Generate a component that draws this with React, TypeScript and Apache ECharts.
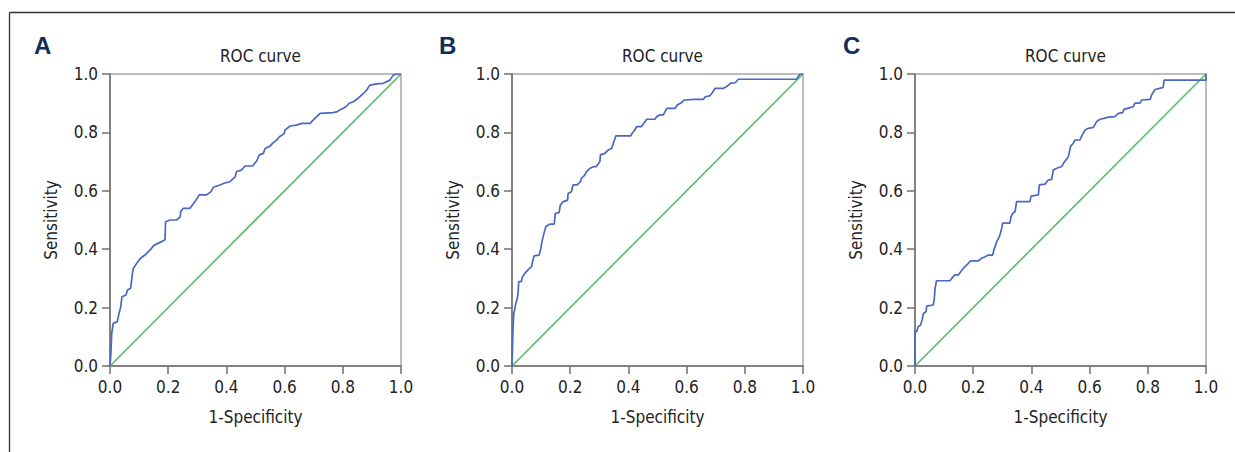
import React, { useEffect, useRef } from "react";
import * as echarts from "echarts";

const panelLetters = ["A", "B", "C"];
const chartTitle = "ROC curve";
const xAxisName = "1-Specificity";
const yAxisName = "Sensitivity";

// ROC curve points [1-specificity, sensitivity]
const rocA: number[][] = [
  [0, 0], [0.003, 0.043], [0.006, 0.112], [0.011, 0.146], [0.025, 0.152], [0.031, 0.18],
  [0.037, 0.203], [0.041, 0.237], [0.055, 0.243], [0.06, 0.26], [0.071, 0.266], [0.077, 0.317],
  [0.08, 0.334], [0.092, 0.352], [0.105, 0.369], [0.12, 0.38], [0.137, 0.397], [0.152, 0.414],
  [0.178, 0.426], [0.189, 0.432], [0.191, 0.494], [0.206, 0.5], [0.229, 0.5], [0.241, 0.511],
  [0.243, 0.529], [0.252, 0.54], [0.275, 0.54], [0.292, 0.563], [0.307, 0.586], [0.332, 0.586],
  [0.347, 0.597], [0.355, 0.612], [0.378, 0.62], [0.392, 0.626], [0.412, 0.631], [0.43, 0.648],
  [0.435, 0.666], [0.452, 0.671], [0.464, 0.685], [0.49, 0.685], [0.504, 0.702], [0.513, 0.723],
  [0.527, 0.728], [0.533, 0.745], [0.55, 0.753], [0.561, 0.765], [0.573, 0.774], [0.582, 0.785],
  [0.598, 0.795], [0.601, 0.808], [0.619, 0.822], [0.641, 0.825], [0.659, 0.831], [0.687, 0.831],
  [0.704, 0.848], [0.722, 0.865], [0.767, 0.868], [0.781, 0.871], [0.79, 0.877], [0.811, 0.888],
  [0.822, 0.9], [0.836, 0.905], [0.853, 0.917], [0.871, 0.934], [0.882, 0.945], [0.893, 0.962],
  [0.916, 0.966], [0.939, 0.968], [0.962, 0.979], [0.974, 0.997], [0.991, 1.0], [1, 1],
];

const rocB: number[][] = [
  [0, 0], [0.002, 0.078], [0.003, 0.118], [0.006, 0.18], [0.009, 0.192], [0.013, 0.215],
  [0.017, 0.226], [0.021, 0.249], [0.023, 0.289], [0.032, 0.289], [0.036, 0.306], [0.044, 0.317],
  [0.055, 0.329], [0.067, 0.34], [0.072, 0.363], [0.076, 0.377], [0.093, 0.38], [0.098, 0.397],
  [0.103, 0.426], [0.107, 0.443], [0.116, 0.477], [0.13, 0.486], [0.145, 0.486], [0.149, 0.523],
  [0.162, 0.525], [0.166, 0.551], [0.176, 0.563], [0.191, 0.568], [0.193, 0.591], [0.204, 0.597],
  [0.21, 0.62], [0.224, 0.62], [0.235, 0.631], [0.239, 0.643], [0.25, 0.654], [0.256, 0.666],
  [0.268, 0.677], [0.282, 0.683], [0.29, 0.683], [0.302, 0.7], [0.304, 0.723], [0.319, 0.728],
  [0.331, 0.74], [0.342, 0.745], [0.357, 0.788], [0.408, 0.788], [0.413, 0.797], [0.422, 0.808],
  [0.428, 0.82], [0.445, 0.82], [0.453, 0.831], [0.463, 0.845], [0.491, 0.845], [0.497, 0.854],
  [0.509, 0.86], [0.52, 0.86], [0.526, 0.871], [0.532, 0.882], [0.56, 0.882], [0.568, 0.894],
  [0.583, 0.902], [0.591, 0.911], [0.629, 0.913], [0.658, 0.913], [0.664, 0.922], [0.679, 0.925],
  [0.687, 0.934], [0.698, 0.951], [0.727, 0.951], [0.738, 0.957], [0.75, 0.968], [0.767, 0.97],
  [0.778, 0.982], [0.979, 0.982], [0.983, 0.991], [0.991, 1.0], [1, 1],
];

const rocC: number[][] = [
  [0, 0], [0, 0.118], [0.006, 0.118], [0.011, 0.135], [0.019, 0.14], [0.025, 0.16],
  [0.029, 0.18], [0.038, 0.186], [0.04, 0.205], [0.063, 0.209], [0.066, 0.228], [0.069, 0.266],
  [0.074, 0.292], [0.12, 0.292], [0.126, 0.3], [0.137, 0.312], [0.149, 0.312], [0.157, 0.323],
  [0.166, 0.334], [0.178, 0.346], [0.191, 0.36], [0.218, 0.36], [0.229, 0.369], [0.241, 0.374],
  [0.252, 0.38], [0.267, 0.38], [0.271, 0.397], [0.281, 0.426], [0.29, 0.443], [0.298, 0.471],
  [0.301, 0.489], [0.326, 0.489], [0.33, 0.511], [0.336, 0.523], [0.344, 0.529], [0.349, 0.563],
  [0.395, 0.563], [0.399, 0.582], [0.424, 0.586], [0.427, 0.62], [0.447, 0.623], [0.458, 0.637],
  [0.47, 0.639], [0.475, 0.671], [0.487, 0.677], [0.504, 0.683], [0.51, 0.694], [0.518, 0.705],
  [0.527, 0.717], [0.535, 0.753], [0.544, 0.763], [0.55, 0.774], [0.567, 0.774], [0.573, 0.788],
  [0.584, 0.808], [0.596, 0.814], [0.613, 0.817], [0.624, 0.837], [0.636, 0.845], [0.649, 0.848],
  [0.664, 0.852], [0.687, 0.854], [0.699, 0.865], [0.714, 0.868], [0.718, 0.879], [0.739, 0.885],
  [0.75, 0.888], [0.756, 0.9], [0.773, 0.9], [0.779, 0.911], [0.808, 0.913], [0.813, 0.928],
  [0.825, 0.947], [0.853, 0.954], [0.856, 0.979], [1.0, 0.979], [1.0, 1.0],
];

const referenceLine: number[][] = [[0, 0], [1, 1]];
const rocData = [rocA, rocB, rocC];

const FONT = "'Liberation Sans Narrow', 'DejaVu Sans Condensed', 'Liberation Sans', sans-serif";

export default function App() {
  const ref = useRef<HTMLDivElement>(null);
  useEffect(() => {
    if (!ref.current) return;
    const chart = echarts.init(ref.current, undefined, { renderer: "svg" });
    const gridLefts = [110, 512, 915];
    const gridW = 291;
    const gridTop = 74;
    const gridH = 292;
    const letterX = [34, 439, 843];

    const grids = gridLefts.map((l) => ({
      left: l,
      top: gridTop,
      width: gridW,
      height: gridH,
      show: true,
      borderColor: "#a8a8a8",
      borderWidth: 1.5,
      backgroundColor: "transparent",
    }));

    const axisLabelStyle = { fontFamily: FONT, fontSize: 17, color: "#222" };

    const xAxes = gridLefts.map((_, i) => ({
      type: "value",
      gridIndex: i,
      min: 0,
      max: 1,
      interval: 0.2,
      name: xAxisName,
      nameLocation: "middle",
      nameGap: 42,
      nameTextStyle: { fontFamily: FONT, fontSize: 17, color: "#222" },
      axisLine: { show: true, lineStyle: { color: "#6f6f6f", width: 1.5 } },
      axisTick: { show: true, length: 8, lineStyle: { color: "#6f6f6f", width: 1.5 } },
      axisLabel: { ...axisLabelStyle, margin: 12, formatter: (v: number) => v.toFixed(1) },
      splitLine: { show: false },
    }));

    const yAxes = gridLefts.map((_, i) => ({
      type: "value",
      gridIndex: i,
      min: 0,
      max: 1,
      interval: 0.2,
      name: yAxisName,
      nameLocation: "middle",
      nameGap: 51,
      nameRotate: 90,
      nameTextStyle: { fontFamily: FONT, fontSize: 17, color: "#222" },
      axisLine: { show: true, lineStyle: { color: "#6f6f6f", width: 1.5 } },
      axisTick: { show: true, length: 8, lineStyle: { color: "#6f6f6f", width: 1.5 } },
      axisLabel: { ...axisLabelStyle, margin: 12, formatter: (v: number) => v.toFixed(1) },
      splitLine: { show: false },
    }));

    const series: any[] = [];
    rocData.forEach((d, i) => {
      series.push({
        type: "line",
        xAxisIndex: i,
        yAxisIndex: i,
        data: referenceLine,
        symbol: "none",
        lineStyle: { color: "#58bb6a", width: 1.6 },
        z: 2,
      });
      series.push({
        type: "line",
        xAxisIndex: i,
        yAxisIndex: i,
        data: d,
        symbol: "none",
        lineStyle: { color: "#4a68c0", width: 1.7 },
        z: 3,
      });
    });

    const titles = gridLefts.map((l) => ({
      text: chartTitle,
      left: l + gridW / 2,
      top: 42,
      textAlign: "center",
      textStyle: { fontFamily: FONT, fontSize: 17, fontWeight: "normal", color: "#222" },
    }));

    const graphic: any[] = [
      {
        type: "line",
        shape: { x1: 9.5, y1: 12.5, x2: 1235, y2: 12.5 },
        style: { stroke: "#333", lineWidth: 1.3 },
      },
      {
        type: "line",
        shape: { x1: 9.5, y1: 12.5, x2: 9.5, y2: 452 },
        style: { stroke: "#333", lineWidth: 1.3 },
      },
      ...panelLetters.map((t, i) => ({
        type: "text",
        x: letterX[i],
        y: 45,
        style: {
          text: t,
          fontFamily: "'Liberation Sans', 'DejaVu Sans', sans-serif",
          fontWeight: "bold",
          fontSize: 24,
          fill: "#102d5c",
          textVerticalAlign: "middle",
        },
      })),
    ];

    chart.setOption({
      animation: false,
      backgroundColor: "#fff",
      title: titles,
      grid: grids,
      xAxis: xAxes,
      yAxis: yAxes,
      series,
      graphic,
    });
    return () => chart.dispose();
  }, []);
  return (
    <div
      ref={ref}
      style={{ position: "absolute", left: 0, top: 0, width: 1235, height: 452 }}
    />
  );
}
